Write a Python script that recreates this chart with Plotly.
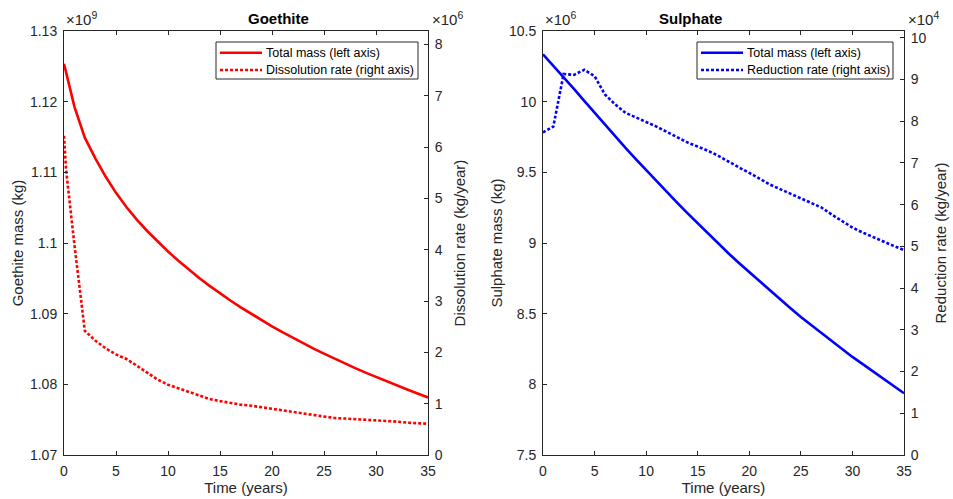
import plotly.graph_objects as go

# ---------------- data ----------------
years = list(range(0, 36))

# Goethite total mass, x10^9 kg
goethite_mass = [1.12535, 1.11930, 1.11490, 1.11200, 1.10940, 1.10710, 1.10510,
                 1.10330, 1.10170, 1.10020, 1.09880, 1.09748, 1.09623, 1.09505,
                 1.09393, 1.09287, 1.09186, 1.09089, 1.08996, 1.08907, 1.08821,
                 1.08738, 1.08658, 1.08581, 1.08506, 1.08434, 1.08364, 1.08296,
                 1.08230, 1.08166, 1.08104, 1.08043, 1.07984, 1.07926, 1.07870,
                 1.07815]

# Goethite dissolution rate, x10^6 kg/year
goethite_rate_years = [0, 0.2] + list(range(1, 36))
goethite_rate = [6.22, 5.55, 4.10, 2.42, 2.23, 2.08, 1.96, 1.87, 1.74, 1.60, 1.47,
                 1.37, 1.30, 1.23, 1.16, 1.09, 1.05, 1.01, 0.98, 0.96, 0.93, 0.90,
                 0.87, 0.83, 0.80, 0.78, 0.75, 0.72, 0.71, 0.70, 0.68, 0.67, 0.66,
                 0.65, 0.63, 0.62, 0.61]

# Sulphate total mass, x10^6 kg
sulphate_mass = [10.335, 10.256, 10.176, 10.091, 10.006, 9.921, 9.836, 9.754,
                 9.673, 9.594, 9.515, 9.438, 9.361, 9.285, 9.211, 9.138, 9.066,
                 8.995, 8.926, 8.859, 8.793, 8.729, 8.665, 8.602, 8.539, 8.476,
                 8.420, 8.363, 8.307, 8.250, 8.194, 8.143, 8.091, 8.040, 7.988,
                 7.937]

# Sulphate reduction rate, x10^4 kg/year
sulphate_rate = [7.73, 7.87, 9.13, 9.11, 9.23, 9.08, 8.64, 8.40, 8.20, 8.08, 7.98,
                 7.87, 7.74, 7.61, 7.49, 7.39, 7.29, 7.17, 7.02, 6.89, 6.76, 6.62,
                 6.48, 6.37, 6.26, 6.16, 6.05, 5.93, 5.76, 5.60, 5.45, 5.33, 5.22,
                 5.11, 5.01, 4.91]

x_ticks = [0, 5, 10, 15, 20, 25, 30, 35]
goethite_mass_ticks = [1.07, 1.08, 1.09, 1.10, 1.11, 1.12, 1.13]
goethite_mass_labels = ["1.07", "1.08", "1.09", "1.1", "1.11", "1.12", "1.13"]
goethite_rate_ticks = [0, 1, 2, 3, 4, 5, 6, 7, 8]
sulphate_mass_ticks = [7.5, 8, 8.5, 9, 9.5, 10, 10.5]
sulphate_mass_labels = ["7.5", "8", "8.5", "9", "9.5", "10", "10.5"]
sulphate_rate_ticks = [0, 1, 2, 3, 4, 5, 6, 7, 8, 9, 10]

goethite_legend = ["Total mass (left axis)", "Dissolution rate (right axis)"]
sulphate_legend = ["Total mass (left axis)", "Reduction rate (right axis)"]

# ---------------- styling ----------------
W, H = 953, 499
FONT = "Liberation Sans, Arial, sans-serif"
AX = "#262626"
RED = "#FF0000"
BLUE = "#0000FF"
LW = 2.6
DOT = "3px,2px"


def px(x):
    return x / W


def py(y):
    return (H - y) / H


left_dom = [px(64), px(428)]
right_dom = [px(543), px(904)]
y_dom = [py(455), py(31)]

fig = go.Figure()

fig.add_trace(go.Scatter(x=years, y=goethite_mass, mode="lines",
                         name=goethite_legend[0],
                         line=dict(color=RED, width=LW),
                         xaxis="x", yaxis="y"))
fig.add_trace(go.Scatter(x=goethite_rate_years, y=goethite_rate, mode="lines",
                         name=goethite_legend[1],
                         line=dict(color=RED, width=LW, dash=DOT),
                         xaxis="x", yaxis="y2"))
fig.add_trace(go.Scatter(x=years, y=sulphate_mass, mode="lines",
                         name=sulphate_legend[0],
                         line=dict(color=BLUE, width=LW),
                         xaxis="x2", yaxis="y3"))
fig.add_trace(go.Scatter(x=years, y=sulphate_rate, mode="lines",
                         name=sulphate_legend[1],
                         line=dict(color=BLUE, width=LW, dash=DOT),
                         xaxis="x2", yaxis="y4"))

common_axis = dict(showgrid=False, zeroline=False, showline=True, linecolor=AX,
                   linewidth=1, ticks="inside", ticklen=4, tickcolor=AX,
                   tickfont=dict(family=FONT, size=14, color=AX),
                   ticklabelstandoff=3, automargin=False)
title_font = dict(family=FONT, size=15, color=AX)

x_common = dict(common_axis, range=[0, 35], tickvals=x_ticks, mirror="ticks",
                title=dict(text="Time (years)", font=title_font, standoff=4))

fig.update_layout(
    width=W, height=H,
    margin=dict(l=0, r=0, t=0, b=0, autoexpand=False),
    paper_bgcolor="white", plot_bgcolor="white",
    font=dict(family=FONT, color=AX),
    showlegend=False,
    xaxis=dict(x_common, domain=left_dom, anchor="y"),
    yaxis=dict(common_axis, domain=y_dom, anchor="x", range=[1.07, 1.13],
               tickvals=goethite_mass_ticks, ticktext=goethite_mass_labels,
               title=dict(text="Goethite mass (kg)", font=title_font, standoff=2)),
    yaxis2=dict(common_axis, overlaying="y", side="right", anchor="x",
                range=[0, 8.26], tickvals=goethite_rate_ticks,
                title=dict(text="Dissolution rate (kg/year)", font=title_font,
                           standoff=12)),
    xaxis2=dict(x_common, domain=right_dom, anchor="y3"),
    yaxis3=dict(common_axis, domain=y_dom, anchor="x2", range=[7.5, 10.5],
                tickvals=sulphate_mass_ticks, ticktext=sulphate_mass_labels,
                title=dict(text="Sulphate mass (kg)", font=title_font, standoff=2)),
    yaxis4=dict(common_axis, overlaying="y3", side="right", anchor="x2",
                range=[0, 10.16], tickvals=sulphate_rate_ticks,
                title=dict(text="Reduction rate (kg/year)", font=title_font,
                           standoff=9)),
)


# boxed legend drawn in paper coordinates inside each panel
def add_legend(x0, x1, labels, color):
    fig.add_shape(type="rect", xref="paper", yref="paper",
                  x0=px(x0), x1=px(x1), y0=py(79), y1=py(42),
                  line=dict(color=AX, width=1), fillcolor="white", layer="above")
    for row, (label, dash) in enumerate(zip(labels, ["solid", DOT])):
        yy = 52.7 + row * 17.3
        fig.add_shape(type="line", xref="paper", yref="paper",
                      x0=px(x0 + 4), x1=px(x0 + 46), y0=py(yy), y1=py(yy),
                      line=dict(color=color, width=LW, dash=dash), layer="above")
        fig.add_annotation(text=label, xref="paper", yref="paper",
                           x=px(x0 + 48), y=py(yy), xanchor="left", yanchor="middle",
                           showarrow=False,
                           font=dict(family=FONT, size=12.5, color="#000000"))


add_legend(216, 418, goethite_legend, RED)
add_legend(697, 893, sulphate_legend, BLUE)

# panel titles and axis exponent labels
annotations = [
    dict(text="<b>Goethite</b>", x=(left_dom[0] + left_dom[1]) / 2, y=py(18),
         font=dict(family=FONT, size=15, color="#000000")),
    dict(text="<b>Sulphate</b>", x=(right_dom[0] + right_dom[1]) / 2, y=py(18),
         font=dict(family=FONT, size=15, color="#000000")),
    dict(text="×10<sup>9</sup>", x=left_dom[0], y=py(18), xanchor="left"),
    dict(text="×10<sup>6</sup>", x=left_dom[1] + px(2), y=py(18), xanchor="left"),
    dict(text="×10<sup>6</sup>", x=right_dom[0], y=py(18), xanchor="left"),
    dict(text="×10<sup>4</sup>", x=right_dom[1] + px(2), y=py(18), xanchor="left"),
]
for a in annotations:
    a.setdefault("font", dict(family=FONT, size=15, color=AX))
    fig.add_annotation(xref="paper", yref="paper", showarrow=False,
                       yanchor="middle", **a)

fig.write_html("out.html", post_script="document.body.style.margin='0';")
